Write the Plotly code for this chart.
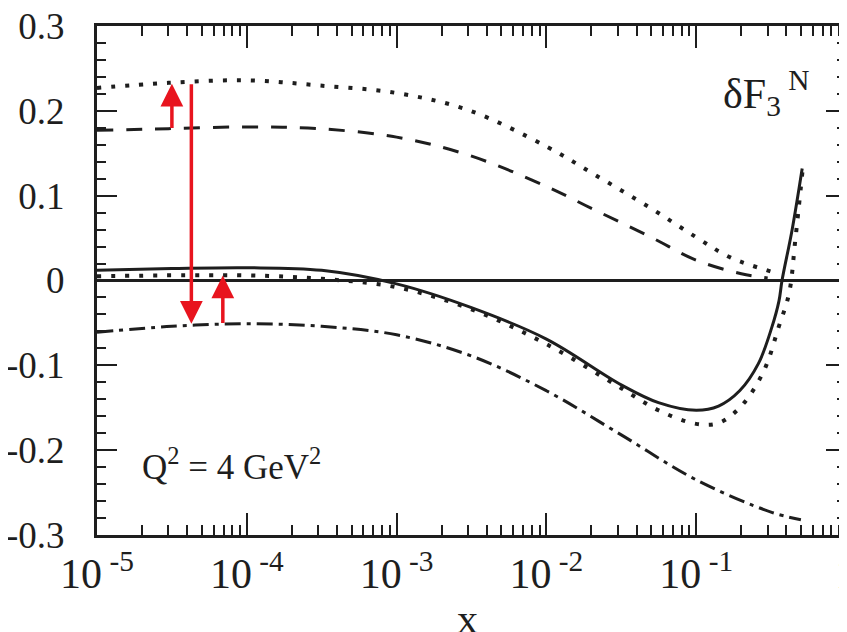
import plotly.graph_objects as go

# curves (x is Bjorken x, y is delta F3)
x_dot_up = [1e-5, 3e-5, 1e-4, 3e-4, 1e-3, 3e-3, 1e-2, 2e-2, 5e-2, 0.1, 0.17, 0.34]
y_dot_up = [0.227, 0.233, 0.236, 0.230, 0.221, 0.201, 0.158, 0.127, 0.085, 0.051, 0.027, 0.009]

x_dash = [1e-5, 3e-5, 1e-4, 3e-4, 1e-3, 3e-3, 1e-2, 2e-2, 5e-2, 0.1, 0.2, 0.3]
y_dash = [0.177, 0.179, 0.181, 0.179, 0.169, 0.148, 0.111, 0.085, 0.051, 0.024, 0.008, 0.003]

x_solid = [1e-5, 3.16e-5, 1e-4, 3.16e-4, 1e-3, 3.16e-3, 1e-2, 3.16e-2, 5.6e-2, 0.1,
           0.141, 0.195, 0.26, 0.32, 0.357, 0.374, 0.436, 0.51]
y_solid = [0.012, 0.014, 0.015, 0.012, -0.004, -0.032, -0.069, -0.123, -0.144, -0.153,
           -0.148, -0.130, -0.098, -0.055, -0.024, 0.0, 0.059, 0.132]

x_dot_lo = [1e-5, 1e-4, 3.16e-4, 1e-3, 3.16e-3, 1e-2, 3.16e-2, 5.6e-2, 0.1, 0.141,
            0.2, 0.282, 0.355, 0.417, 0.457, 0.513]
y_dot_lo = [0.005, 0.006, 0.002, -0.008, -0.034, -0.075, -0.127, -0.153, -0.169, -0.168,
            -0.148, -0.107, -0.055, -0.015, 0.045, 0.130]

x_dashdot = [1e-5, 3.16e-5, 1e-4, 3.16e-4, 1e-3, 3.16e-3, 1e-2, 3.16e-2, 0.1, 0.316, 0.5]
y_dashdot = [-0.061, -0.054, -0.051, -0.054, -0.064, -0.089, -0.130, -0.182, -0.235, -0.273, -0.282]

x_tickvals = [1e-5, 1e-4, 1e-3, 1e-2, 1e-1, 1]
x_ticktext = ['10<sup> -5</sup>', '10<sup> -4</sup>', '10<sup> -3</sup>',
              '10<sup> -2</sup>', '10<sup> -1</sup>', '1']
y_tickvals = [-0.3, -0.2, -0.1, 0, 0.1, 0.2, 0.3]
y_ticktext = ['-0.3', '-0.2', '-0.1', '0', '0.1', '0.2', '0.3']

# hand drawn red arrows: (log10 x, tail y, head y)
arrows = [(-4.37, 0.233, -0.051), (-4.50, 0.178, 0.232), (-4.16, -0.052, 0.006)]

ink = '#1e1e1e'
serif = 'Liberation Serif'

fig = go.Figure()
fig.add_scatter(x=x_dot_up, y=y_dot_up, mode='lines', line_shape='spline',
                line=dict(color=ink, width=4, dash='4px,10px'))
fig.add_scatter(x=x_dash, y=y_dash, mode='lines', line_shape='spline',
                line=dict(color=ink, width=3, dash='16px,13px'))
fig.add_scatter(x=x_dot_lo, y=y_dot_lo, mode='lines', line_shape='spline',
                line=dict(color=ink, width=4, dash='4px,10px'))
fig.add_scatter(x=x_solid, y=y_solid, mode='lines', line_shape='spline',
                line=dict(color=ink, width=3))
fig.add_scatter(x=x_dashdot, y=y_dashdot, mode='lines', line_shape='spline',
                line=dict(color=ink, width=3, dash='16px,6px,4px,6px'))

for lx, y0, y1 in arrows:
    fig.add_annotation(x=lx, y=y1, ax=lx, ay=y0, xref='x', yref='y', axref='x', ayref='y',
                       showarrow=True, arrowhead=2, arrowsize=1.3, arrowwidth=3.5,
                       arrowcolor='#e8141e', text='')

fig.add_annotation(x=0.057, y=0.09, xref='paper', yref='paper', xanchor='left',
                   text='Q<sup>2</sup> = 4 GeV<sup>2</sup>', showarrow=False,
                   font=dict(family=serif, size=35, color=ink))
fig.add_annotation(x=0.833, y=0.93, xref='paper', yref='paper', xanchor='left',
                   text='\u03b4F<sub>3</sub><sup> N</sup>', showarrow=False,
                   font=dict(family=serif, size=42, color=ink))
fig.add_annotation(x=0.494, y=-0.116, xref='paper', yref='paper', yanchor='top',
                   text='x', showarrow=False,
                   font=dict(family=serif, size=42, color=ink))

fig.update_xaxes(type='log', range=[-5, 0], tickvals=x_tickvals, ticktext=x_ticktext,
                 ticks='inside', ticklen=22, tickwidth=2, tickcolor=ink,
                 minor=dict(ticks='inside', ticklen=10, tickwidth=2, tickcolor=ink, dtick='D1'),
                 showline=True, linewidth=3, linecolor=ink, mirror='allticks',
                 showgrid=False, zeroline=False, automargin=False, ticklabeloverflow='allow',
                 tickfont=dict(family=serif, size=42, color=ink))
fig.update_yaxes(range=[-0.3, 0.3], tickvals=y_tickvals, ticktext=y_ticktext,
                 ticks='inside', ticklen=20, tickwidth=2, tickcolor=ink,
                 minor=dict(ticks='inside', ticklen=9, tickwidth=2, tickcolor=ink, dtick=0.02),
                 showline=True, linewidth=3, linecolor=ink, mirror='allticks',
                 showgrid=False, zeroline=True, zerolinecolor=ink, zerolinewidth=2.5,
                 automargin=False, ticklabelstandoff=22, ticklabeloverflow='allow',
                 tickfont=dict(family=serif, size=37, color=ink))

# the page body adds 8px on the left and top, so margins are trimmed by that
fig.layout.font.family = serif
fig.layout.width = 839
fig.layout.height = 624
fig.layout.margin = dict(l=89, r=1, t=18, b=97)
fig.layout.showlegend = False
fig.layout.plot_bgcolor = 'white'
fig.layout.paper_bgcolor = 'white'

fig.write_html('out.html')
